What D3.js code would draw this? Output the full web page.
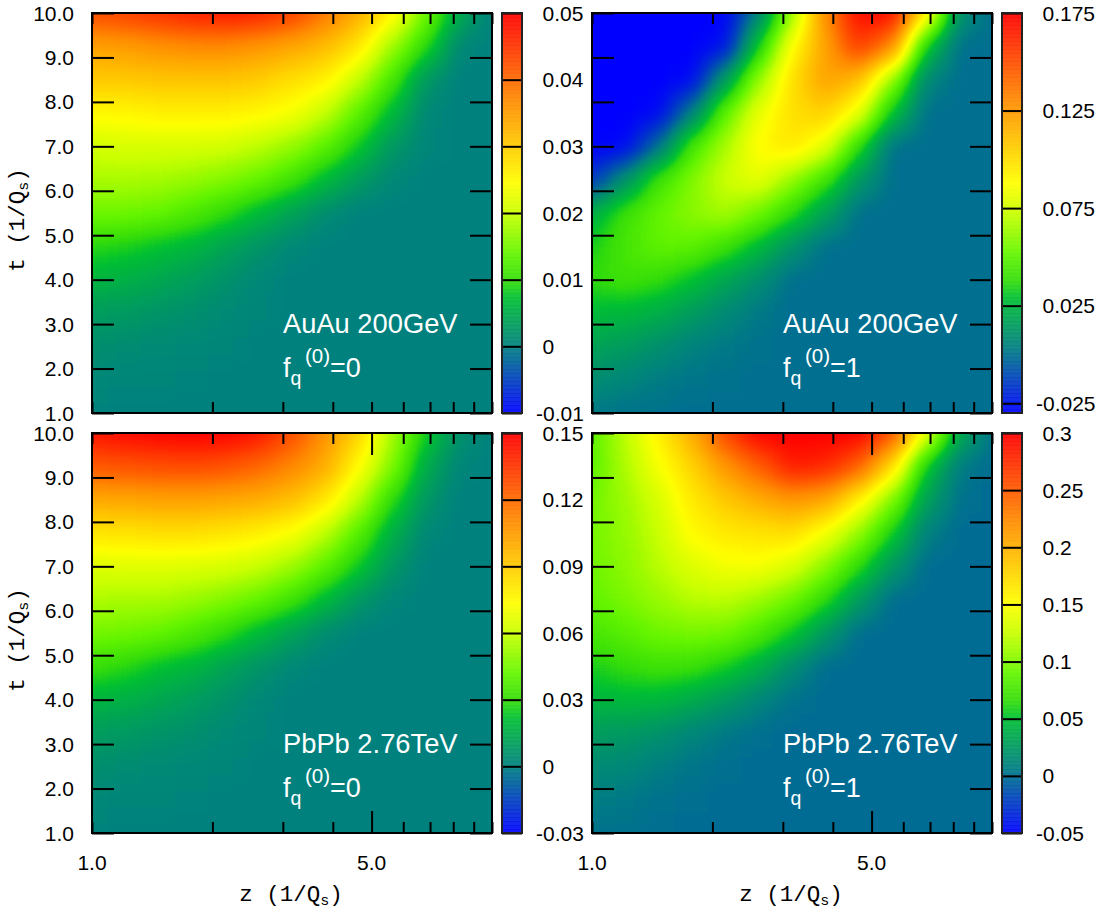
<!DOCTYPE html>
<meta charset="utf-8">
<style>
    body { margin: 0; background: #fff; }
    text { font-family: "Liberation Sans", sans-serif; fill: #000; }
    .mono { font-family: "Liberation Mono", monospace; }
</style>
<svg width="1102" height="909"></svg>

<script src="https://d3js.org/d3.v7.min.js"></script>
<script>
    // grid positions of the readings, z and t, t from the top of the panel down
    var zGrid = [1, 1.21, 1.47, 1.78, 2.15, 2.61, 3.16, 3.83, 4.64, 5.62, 6.81, 8.25, 10];
    var tGrid = [10, 9.25, 8.5, 7.75, 7, 6.25, 5.5, 4.75, 4, 3.25, 2.5, 1.75, 1];

    var auAuQ0 = [
        [.0426, .0438, .0456, .0470, .0478, .0470, .0442, .0386, .0332, .0260, .0150, .0050, 0],
        [.0344, .0350, .0362, .0368, .0368, .0356, .0341, .0317, .0272, .0176, .0098, .0008, 0],
        [.0302, .0302, .0308, .0308, .0308, .0299, .0278, .0260, .0200, .0116, .0026, .0002, 0],
        [.0251, .0254, .0260, .0260, .0260, .0254, .0239, .0200, .0134, .0068, .0008, .0002, 0],
        [.0209, .0212, .0212, .0212, .0209, .0194, .0170, .0134, .0080, .0026, .0005, 0, 0],
        [.0182, .0182, .0179, .0170, .0158, .0140, .0110, .0068, .0032, .0008, .0001, 0, 0],
        [.0146, .0146, .0140, .0122, .0098, .0068, .0038, .0014, .0002, 0, 0, 0, 0],
        [.0092, .0086, .0074, .0062, .0041, .0023, .0008, .0002, 0, 0, 0, 0, 0],
        [.0062, .0056, .0047, .0035, .0020, .0008, .0002, 0, 0, 0, 0, 0, 0],
        [.0032, .0029, .0023, .0017, .0011, .0005, .0002, 0, 0, 0, 0, 0, 0],
        [.0017, .0014, .0011, .0008, .0005, .0002, .0001, 0, 0, 0, 0, 0, 0],
        [.0008, .0007, .0005, .0003, .0002, .0001, 0, 0, 0, 0, 0, 0, 0],
        [.0003, .0002, .0002, .0001, 0, 0, 0, 0, 0, 0, 0, 0, 0]
    ];

    var auAuQ1 = [
        [-.03, -.03, -.03, -.03, -.03, .0049, .0623, .13, .172, .172, .096, .011, 0],
        [-.03, -.03, -.03, -.03, -.0259, .0315, .0879, .1215, .157, .132, .0315, 0, 0],
        [-.03, -.03, -.03, -.028, .0151, .0623, .0992, .1225, .1125, .0623, .0069, 0, 0],
        [-.03, -.03, -.028, .0049, .05, .0828, .0992, .1053, .0828, .0295, 0, 0, 0],
        [-.03, -.028, 0, .0438, .0664, .0899, .0971, .0807, .0377, 0, 0, 0, 0],
        [-.0157, .011, .0418, .0582, .0746, .0828, .0623, .0418, .0131, 0, 0, 0, 0],
        [.0233, .0407, .052, .0602, .0664, .0541, .0377, .0172, 0, 0, 0, 0, 0],
        [.0336, .0438, .051, .05, .0407, .0274, .011, 0, 0, 0, 0, 0, 0],
        [.0377, .0418, .0387, .0295, .0192, .009, 0, 0, 0, 0, 0, 0, 0],
        [.0274, .0264, .0223, .0151, .0079, .0018, 0, 0, 0, 0, 0, 0, 0],
        [.0182, .0151, .01, .0049, .0018, .0003, 0, 0, 0, 0, 0, 0, 0],
        [.009, .0059, .0028, .0012, .0003, 0, 0, 0, 0, 0, 0, 0, 0],
        [.0018, .0008, .0003, 0, 0, 0, 0, 0, 0, 0, 0, 0, 0]
    ];

    var pbPbQ0 = [
        [.1446, .1473, .1491, .15, .1491, .1446, .1284, .1086, .087, .0546, .0258, .006, 0],
        [.1248, .1266, .1284, .1293, .1266, .1212, .1122, .0996, .0744, .0474, .015, .0015, 0],
        [.1014, .1023, .1032, .1032, .1023, .0996, .0942, .0816, .0582, .0294, .0078, .0006, 0],
        [.0816, .0825, .0834, .0834, .0816, .078, .0726, .0582, .0384, .0168, .0024, 0, 0],
        [.0654, .0663, .0663, .0654, .0636, .06, .0528, .0402, .024, .0078, .0006, 0, 0],
        [.0555, .0546, .0546, .0519, .0474, .042, .033, .0204, .0078, .0015, 0, 0, 0],
        [.0456, .0438, .042, .0366, .0294, .0204, .0114, .0042, .0006, 0, 0, 0, 0],
        [.0312, .0276, .0222, .0186, .0123, .0069, .0024, .0006, 0, 0, 0, 0, 0],
        [.0186, .0168, .0141, .0105, .006, .0024, .0006, 0, 0, 0, 0, 0, 0],
        [.0096, .0087, .0069, .0051, .0033, .0015, .0006, 0, 0, 0, 0, 0, 0],
        [.0051, .0042, .0033, .0024, .0015, .0006, .0002, 0, 0, 0, 0, 0, 0],
        [.0024, .002, .0015, .001, .0006, .0002, 0, 0, 0, 0, 0, 0, 0],
        [.001, .0006, .0006, .0002, 0, 0, 0, 0, 0, 0, 0, 0, 0]
    ];

    var pbPbQ1 = [
        [.0865, .1215, .16, .202, .2615, .3, .3, .3, .3, .258, .1425, .0375, .0025],
        [.0865, .1163, .1478, .1775, .216, .2475, .286, .279, .2475, .174, .055, .006, 0],
        [.0935, .111, .132, .1635, .1845, .202, .216, .2073, .16, .1005, .0305, .0025, 0],
        [.0953, .1075, .125, .1548, .1635, .1688, .1723, .146, .1075, .0585, .0095, 0, 0],
        [.0935, .104, .1198, .1355, .146, .1478, .1338, .104, .0655, .0235, 0, 0, 0],
        [.0883, .0988, .1093, .1198, .1215, .111, .0935, .0655, .027, 0, 0, 0, 0],
        [.076, .0848, .0935, .097, .0953, .0795, .055, .0235, 0, 0, 0, 0, 0],
        [.0585, .0673, .0725, .069, .0585, .041, .0165, 0, 0, 0, 0, 0, 0],
        [.0445, .048, .0463, .0375, .0253, .0113, .0025, 0, 0, 0, 0, 0, 0],
        [.027, .0253, .02, .0113, .0043, .0008, 0, 0, 0, 0, 0, 0, 0],
        [.0165, .013, .0078, .0032, .0008, 0, 0, 0, 0, 0, 0, 0, 0],
        [.0078, .0053, .0025, .0008, 0, 0, 0, 0, 0, 0, 0, 0, 0],
        [.0025, .0015, .0008, 0, 0, 0, 0, 0, 0, 0, 0, 0, 0]
    ];

    // colour box ticks of each panel
    var cbTicksTL = [-.01, 0, .01, .02, .03, .04, .05];
    var cbTicksTR = [-.025, .025, .075, .125, .175];
    var cbTicksBL = [-.03, 0, .03, .06, .09, .12, .15];
    var cbTicksBR = [-.05, 0, .05, .1, .15, .2, .25, .3];
    var cbRangeTL = [-.01, .05];
    var cbRangeTR = [-.03, .175];
    var cbRangeBL = [-.03, .15];
    var cbRangeBR = [-.05, .3];

    var paletteStops = [0, .1667, .29, .33, .4, .5, .575, .78, 1];
    var paletteColors = ["#0000ff", "#008080", "#00c032", "#32dc0a", "#64f500", "#c8ff00", "#ffff00", "#ff8c00", "#ff0000"];

    var zTicks = [1, 2, 3, 4, 5, 6, 7, 8, 9, 10];
    var tTicks = [1, 2, 3, 4, 5, 6, 7, 8, 9, 10];

    var panels = [
        {grid: auAuQ0, range: cbRangeTL, ticks: cbTicksTL, title: "AuAu 200GeV", frac: "0"},
        {grid: auAuQ1, range: cbRangeTR, ticks: cbTicksTR, title: "AuAu 200GeV", frac: "1"},
        {grid: pbPbQ0, range: cbRangeBL, ticks: cbTicksBL, title: "PbPb 2.76TeV", frac: "0"},
        {grid: pbPbQ1, range: cbRangeBR, ticks: cbTicksBR, title: "PbPb 2.76TeV", frac: "1"}
    ];

    var svg = d3.select("svg"),
        size = 400,
        fontSize = 21,
        palette = d3.scaleLinear().domain(paletteStops).range(paletteColors).clamp(true),
        x = d3.scaleLog().domain([1, 10]).range([0, size]),
        y = d3.scaleLinear().domain([1, 10]).range([size, 0]);

    // cells are painted as gray levels, blurred, and only then looked up in the
    // palette, so the smoothing happens on the values and not on the colours
    var defs = svg.append("defs"),
        smooth = defs.append("filter")
            .attr("id", "smooth")
            .attr("filterUnits", "userSpaceOnUse")
            .attr("x", -80).attr("y", -80)
            .attr("width", size + 160).attr("height", size + 160)
            .attr("color-interpolation-filters", "sRGB");
    smooth.append("feGaussianBlur").attr("stdDeviation", 13);
    var lookup = smooth.append("feComponentTransfer"),
        table = d3.range(0, 257).map(function (i) { return d3.rgb(palette(i / 256)); });
    [["feFuncR", "r"], ["feFuncG", "g"], ["feFuncB", "b"]].forEach(function (ch) {
        lookup.append(ch[0])
            .attr("type", "table")
            .attr("tableValues", table.map(function (c) { return (c[ch[1]] / 255).toFixed(4); }).join(" "));
    });
    defs.append("clipPath")
        .attr("id", "frame")
        .append("rect")
        .attr("width", size).attr("height", size);

    function cellEdges(values, scale, pad) {
        var px = values.map(scale);
        return px.map(function (p, i) {
            var a = i === 0 ? p - pad * Math.sign(px[1] - p) : (px[i - 1] + p) / 2,
                b = i === px.length - 1 ? p + pad * Math.sign(p - px[i - 1]) : (p + px[i + 1]) / 2;
            return [Math.min(a, b), Math.max(a, b)];
        });
    }

    var xEdges = cellEdges(zGrid, x, 60),
        yEdges = cellEdges(tGrid, y, 60);

    function styleAxis(g) {
        g.select(".domain").remove();
        g.selectAll("line").attr("stroke", "#000").attr("stroke-width", 2);
        g.selectAll("text").remove();
    }

    panels.forEach(function (panel, idx) {
        var col = idx % 2,
            row = Math.floor(idx / 2),
            g = svg.append("g").attr("transform", "translate(" + (92 + col * 500) + "," + (13 + row * 420) + ")"),
            level = d3.scaleLinear().domain(panel.range).range([0, 255]).clamp(true);

        // surface
        var cells = [];
        panel.grid.forEach(function (values, r) {
            values.forEach(function (v, c) {
                cells.push({r: r, c: c, v: v});
            });
        });
        g.append("g")
            .attr("clip-path", "url(#frame)")
            .append("g")
            .attr("filter", "url(#smooth)")
            .selectAll("rect")
            .data(cells)
            .enter()
            .append("rect")
            .attr("x", function (d) { return xEdges[d.c][0]; })
            .attr("y", function (d) { return yEdges[d.r][0]; })
            .attr("width", function (d) { return xEdges[d.c][1] - xEdges[d.c][0] + .5; })
            .attr("height", function (d) { return yEdges[d.r][1] - yEdges[d.r][0] + .5; })
            .attr("fill", function (d) { var l = Math.round(level(d.v)); return d3.rgb(l, l, l); });

        // ticks, all four sides. the 5 is a long tick only on the lower row
        var minor = zTicks.filter(function (d) { return row === 0 || d !== 5; });
        g.append("g")
            .attr("transform", "translate(0," + size + ")")
            .call(d3.axisBottom(x).tickValues(minor).tickSize(-11).tickFormat(""))
            .call(styleAxis);
        g.append("g")
            .call(d3.axisTop(x).tickValues(minor).tickSize(-11).tickFormat(""))
            .call(styleAxis);
        if (row === 1) {
            g.append("g")
                .attr("transform", "translate(0," + size + ")")
                .call(d3.axisBottom(x).tickValues([5]).tickSize(-22).tickFormat(""))
                .call(styleAxis);
            g.append("g")
                .call(d3.axisTop(x).tickValues([5]).tickSize(-22).tickFormat(""))
                .call(styleAxis);
        }
        g.append("g")
            .call(d3.axisLeft(y).tickValues(tTicks).tickSize(-22).tickFormat(""))
            .call(styleAxis);
        g.append("g")
            .attr("transform", "translate(" + size + ",0)")
            .call(d3.axisRight(y).tickValues(tTicks).tickSize(-22).tickFormat(""))
            .call(styleAxis);

        g.append("rect")
            .attr("width", size).attr("height", size)
            .attr("fill", "none")
            .attr("stroke", "#000")
            .attr("stroke-width", 2);

        // t labels, left column only
        if (col === 0) {
            g.selectAll(".tlabel")
                .data(tTicks)
                .enter()
                .append("text")
                .attr("class", "tlabel")
                .attr("x", -18)
                .attr("y", function (d) { return y(d) + 7.5; })
                .attr("text-anchor", "end")
                .attr("font-size", fontSize)
                .text(d3.format(".1f"));

            var yl = g.append("text")
                .attr("class", "mono")
                .attr("transform", "translate(-68," + (size / 2 + 7) + ") rotate(-90)")
                .attr("text-anchor", "middle")
                .attr("font-size", 22.5);
            yl.append("tspan").text("t (1/Q");
            yl.append("tspan").attr("font-size", 15).attr("dy", 4).text("s");
            yl.append("tspan").attr("dy", -4).text(")");
        }

        // z labels, lower row only
        if (row === 1) {
            g.selectAll(".zlabel")
                .data([1, 5])
                .enter()
                .append("text")
                .attr("class", "zlabel")
                .attr("x", x)
                .attr("y", size + 37)
                .attr("text-anchor", "middle")
                .attr("font-size", fontSize)
                .text(d3.format(".1f"));

            var xl = g.append("text")
                .attr("class", "mono")
                .attr("x", size / 2 - 1)
                .attr("y", size + 68)
                .attr("text-anchor", "middle")
                .attr("font-size", 22.5);
            xl.append("tspan").text("z (1/Q");
            xl.append("tspan").attr("font-size", 15).attr("dy", 4).text("s");
            xl.append("tspan").attr("dy", -4).text(")");
        }

        // white notes inside the panel
        var notes = g.append("g").attr("transform", "translate(191,320)");
        notes.append("text").attr("font-size", 27.3).style("fill", "#fff").text(panel.title);
        notes.append("text").attr("y", 44).attr("font-size", 27).style("fill", "#fff").text("f");
        notes.append("text").attr("x", 7.5).attr("y", 52).attr("font-size", 19.5).style("fill", "#fff").text("q");
        notes.append("text").attr("x", 22).attr("y", 30).attr("font-size", 20.5).style("fill", "#fff").text("(0)");
        notes.append("text").attr("x", 47).attr("y", 44).attr("font-size", 27).style("fill", "#fff").text("=" + panel.frac);

        // colour box
        var cb = g.append("g").attr("transform", "translate(" + (size + 10) + ",0)"),
            cbY = d3.scaleLinear().domain(panel.range).range([size, 0]),
            steps = d3.range(0, 100);
        cb.selectAll("rect")
            .data(steps)
            .enter()
            .append("rect")
            .attr("y", function (d) { return size - (d + 1) * size / steps.length; })
            .attr("width", 20)
            .attr("height", size / steps.length + .5)
            .attr("fill", function (d) { return palette((d + .5) / steps.length); })
            .attr("fill-opacity", .92);
        cb.append("g")
            .attr("transform", "translate(20,0)")
            .call(d3.axisRight(cbY).tickValues(panel.ticks).tickSize(-20).tickFormat(""))
            .call(styleAxis);
        cb.append("rect")
            .attr("width", 20).attr("height", size)
            .attr("fill", "none")
            .attr("stroke", "#222")
            .attr("stroke-width", 2);
        cb.selectAll(".cblabel")
            .data(panel.ticks)
            .enter()
            .append("text")
            .attr("class", "cblabel")
            .attr("x", function (d) { return d < 0 ? 34 : 40.5; })
            .attr("y", function (d) { return cbY(d) + 7.5; })
            .attr("font-size", fontSize)
            .text(String);
    });
</script>
